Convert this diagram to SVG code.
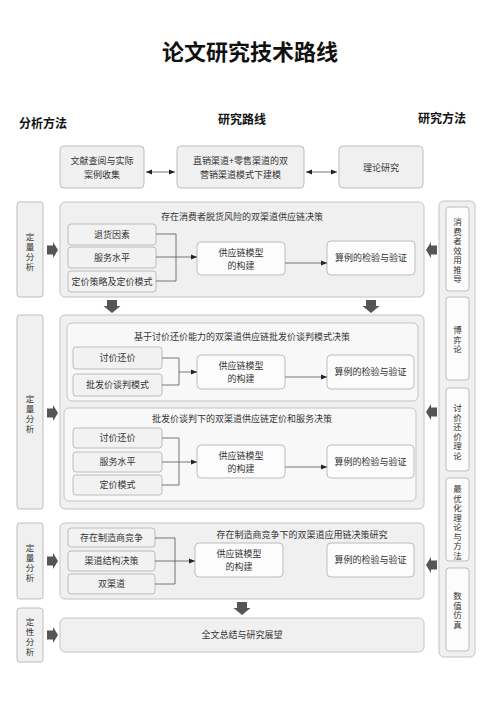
<svg xmlns="http://www.w3.org/2000/svg" width="500" height="707" viewBox="0 0 500 707">
<style>
text{font-family:"Noto Sans CJK SC","Noto Sans",sans-serif;fill:#333;}
.t9{font-size:9px;text-anchor:middle;}
.vt{font-size:8.5px;text-anchor:middle;}
.vr{font-size:8.5px;text-anchor:middle;}
.hd{font-size:12px;font-weight:bold;text-anchor:middle;fill:#111;}
.ttl{font-size:22px;font-weight:bold;text-anchor:middle;fill:#111;}
.box{fill:#f0f0f0;stroke:#bdbdbd;stroke-width:1;}
.sec{fill:#f0f0f0;stroke:#c4c4c4;stroke-width:1;}
.sub{fill:#f8f8f8;stroke:#c4c4c4;stroke-width:1;}
.fac{fill:#f2f2f2;stroke:#b5b5b5;stroke-width:0.9;}
.wb{fill:#fcfcfc;stroke:#b5b5b5;stroke-width:0.9;}
.ln{fill:none;stroke:#555;stroke-width:0.8;}
.ba{fill:#555;}
</style>
<defs>
<marker id="ah" viewBox="0 0 10 10" refX="10" refY="5" markerWidth="6" markerHeight="6" orient="auto-start-reverse" markerUnits="userSpaceOnUse">
<path d="M0,1 L10,5 L0,9 Z" fill="#222"/>
</marker>
<path id="rA" d="M0,-4.5 H6 V-8 L11,0 L6,8 V4.5 H0 Z"/>
<path id="lA" d="M0,-4.5 H-6 V-8 L-11,0 L-6,8 V4.5 H0 Z"/>
<path id="dA" d="M-5,0 H5 V6 H8.5 L0,13 L-8.5,6 H-5 Z"/>
</defs>
<rect width="500" height="707" fill="#fff"/>

<g id="title">
<text class="ttl" x="250" y="60">论文研究技术路线</text>
<text class="hd" x="43" y="128">分析方法</text>
<text class="hd" x="242" y="124">研究路线</text>
<text class="hd" x="442" y="123">研究方法</text>
</g>

<g id="top-a"><rect class="box" x="60" y="146" width="84" height="42" rx="4"/>
<text class="t9" x="102" y="164">文献查阅与实际</text><text class="t9" x="102" y="178">案例收集</text></g>
<g id="top-b"><rect class="box" x="177" y="146" width="127" height="42" rx="4"/>
<text class="t9" x="240.5" y="164">直销渠道+零售渠道的双</text><text class="t9" x="240.5" y="178">营销渠道模式下建模</text></g>
<g id="top-c"><rect class="box" x="339" y="146" width="84" height="42" rx="4"/>
<text class="t9" x="381" y="171">理论研究</text></g>

<!-- left column -->
<g id="left-1"><rect class="box" x="17" y="202" width="26" height="95" rx="3"/>
<text class="vt"><tspan x="30" y="240">定</tspan><tspan x="30" y="250">量</tspan><tspan x="30" y="260">分</tspan><tspan x="30" y="270">析</tspan></text></g>
<g id="left-2"><rect class="box" x="17" y="315" width="26" height="194" rx="3"/>
<text class="vt"><tspan x="30" y="402">定</tspan><tspan x="30" y="412">量</tspan><tspan x="30" y="422">分</tspan><tspan x="30" y="432">析</tspan></text></g>
<g id="left-3"><rect class="box" x="17" y="523" width="26" height="76" rx="3"/>
<text class="vt"><tspan x="30" y="551">定</tspan><tspan x="30" y="561">量</tspan><tspan x="30" y="571">分</tspan><tspan x="30" y="581">析</tspan></text></g>
<g id="left-4"><rect class="box" x="17" y="608" width="26" height="54" rx="3"/>
<text class="vt"><tspan x="30" y="625">定</tspan><tspan x="30" y="635">性</tspan><tspan x="30" y="645">分</tspan><tspan x="30" y="655">析</tspan></text></g>

<!-- right column -->
<g id="right-col"><rect class="sec" x="439" y="201" width="36" height="456" rx="5"/></g>
<g id="r1"><rect class="wb" x="446" y="207" width="23" height="84" rx="3"/>
<text class="vr"><tspan x="457.5" y="225">消</tspan><tspan x="457.5" y="234.5">费</tspan><tspan x="457.5" y="244">者</tspan><tspan x="457.5" y="253.5">效</tspan><tspan x="457.5" y="263">用</tspan><tspan x="457.5" y="272.5">推</tspan><tspan x="457.5" y="282">导</tspan></text></g>
<g id="r2"><rect class="wb" x="446" y="297" width="23" height="83" rx="3"/>
<text class="vr"><tspan x="457.5" y="333">博</tspan><tspan x="457.5" y="342.5">弈</tspan><tspan x="457.5" y="352">论</tspan></text></g>
<g id="r3"><rect class="wb" x="446" y="388" width="23" height="83" rx="3"/>
<text class="vr"><tspan x="457.5" y="411">讨</tspan><tspan x="457.5" y="420.5">价</tspan><tspan x="457.5" y="430">还</tspan><tspan x="457.5" y="439.5">价</tspan><tspan x="457.5" y="449">理</tspan><tspan x="457.5" y="458.5">论</tspan></text></g>
<g id="r4"><rect class="wb" x="446" y="478" width="23" height="83" rx="3"/>
<text class="vr"><tspan x="457.5" y="492">最</tspan><tspan x="457.5" y="501.5">优</tspan><tspan x="457.5" y="511">化</tspan><tspan x="457.5" y="520.5">理</tspan><tspan x="457.5" y="530">论</tspan><tspan x="457.5" y="539.5">与</tspan><tspan x="457.5" y="549">方</tspan><tspan x="457.5" y="558.5">法</tspan></text></g>
<g id="r5"><rect class="wb" x="446" y="568" width="23" height="83" rx="3"/>
<text class="vr"><tspan x="457.5" y="599">数</tspan><tspan x="457.5" y="608.5">值</tspan><tspan x="457.5" y="618">仿</tspan><tspan x="457.5" y="627.5">真</tspan></text></g>

<!-- section 1 -->
<g id="sec1"><rect class="sec" x="60" y="202" width="364" height="95" rx="5"/>
<text class="t9" x="242" y="220">存在消费者脱货风险的双渠道供应链决策</text></g>
<g id="s1f1"><rect class="fac" x="68" y="224" width="88" height="21" rx="3"/><text class="t9" x="112" y="237.5">退货因素</text></g>
<g id="s1f2"><rect class="fac" x="68" y="247" width="88" height="21" rx="3"/><text class="t9" x="112" y="260.5">服务水平</text></g>
<g id="s1f3"><rect class="fac" x="68" y="271" width="88" height="21" rx="3"/><text class="t9" x="112" y="284.5">定价策略及定价模式</text></g>
<g id="s1m"><rect class="wb" x="197" y="242" width="88" height="33" rx="4"/><text class="t9" x="241" y="256">供应链模型</text><text class="t9" x="241" y="269">的构建</text></g>
<g id="s1v"><rect class="wb" x="327" y="241" width="88" height="34" rx="4"/><text class="t9" x="371" y="261">算例的检验与验证</text></g>

<!-- section 2 -->
<g id="sec2"><rect class="sec" x="60" y="315" width="364" height="194" rx="5"/></g>
<g id="sec2a"><rect class="sub" x="67" y="323" width="351" height="78" rx="5"/>
<text class="t9" x="242" y="340">基于讨价还价能力的双渠道供应链批发价谈判模式决策</text></g>
<g id="s2af1"><rect class="fac" x="73" y="347" width="89" height="22" rx="3"/><text class="t9" x="117.5" y="361">讨价还价</text></g>
<g id="s2af2"><rect class="fac" x="73" y="374" width="89" height="22" rx="3"/><text class="t9" x="117.5" y="388">批发价谈判模式</text></g>
<g id="s2am"><rect class="wb" x="197" y="355" width="88" height="34" rx="4"/><text class="t9" x="241" y="369">供应链模型</text><text class="t9" x="241" y="382">的构建</text></g>
<g id="s2av"><rect class="wb" x="327" y="355" width="87" height="34" rx="4"/><text class="t9" x="370.5" y="375">算例的检验与验证</text></g>

<g id="sec2b"><rect class="sub" x="64" y="408" width="352" height="93" rx="5"/>
<text class="t9" x="242" y="422">批发价谈判下的双渠道供应链定价和服务决策</text></g>
<g id="s2bf1"><rect class="fac" x="73" y="428" width="89" height="20" rx="3"/><text class="t9" x="117.5" y="441">讨价还价</text></g>
<g id="s2bf2"><rect class="fac" x="73" y="452" width="89" height="20" rx="3"/><text class="t9" x="117.5" y="465">服务水平</text></g>
<g id="s2bf3"><rect class="fac" x="73" y="475" width="89" height="20" rx="3"/><text class="t9" x="117.5" y="488">定价模式</text></g>
<g id="s2bm"><rect class="wb" x="197" y="445" width="88" height="33" rx="4"/><text class="t9" x="241" y="459">供应链模型</text><text class="t9" x="241" y="472">的构建</text></g>
<g id="s2bv"><rect class="wb" x="327" y="445" width="87" height="33" rx="4"/><text class="t9" x="370.5" y="465">算例的检验与验证</text></g>

<!-- section 3 -->
<g id="sec3"><rect class="sec" x="60" y="523" width="364" height="76" rx="5"/>
<text class="t9" x="302" y="538">存在制造商竞争下的双渠道应用链决策研究</text></g>
<g id="s3f1"><rect class="fac" x="68" y="528" width="87" height="19" rx="3"/><text class="t9" x="111.5" y="540.5">存在制造商竞争</text></g>
<g id="s3f2"><rect class="fac" x="68" y="551" width="87" height="20" rx="3"/><text class="t9" x="111.5" y="564">渠道结构决策</text></g>
<g id="s3f3"><rect class="fac" x="68" y="574" width="87" height="20" rx="3"/><text class="t9" x="111.5" y="587">双渠道</text></g>
<g id="s3m"><rect class="wb" x="195" y="543" width="88" height="34" rx="4"/><text class="t9" x="239" y="557">供应链模型</text><text class="t9" x="239" y="570">的构建</text></g>
<g id="s3v"><rect class="wb" x="327" y="543" width="87" height="34" rx="4"/><text class="t9" x="370.5" y="563">算例的检验与验证</text></g>

<!-- section 4 -->
<g id="sec4"><rect class="sec" x="60" y="618" width="364" height="34" rx="5"/>
<text class="t9" x="242" y="638">全文总结与研究展望</text></g>

<g id="connectors">
<line class="ln" x1="146" y1="172" x2="175" y2="172" marker-start="url(#ah)" marker-end="url(#ah)"/>
<line class="ln" x1="306" y1="172" x2="337" y2="172" marker-start="url(#ah)" marker-end="url(#ah)"/>

<polyline class="ln" points="156,234 176,234 176,281 156,281"/>
<line class="ln" x1="156" y1="257" x2="197" y2="257" marker-end="url(#ah)"/>
<line class="ln" x1="285" y1="263" x2="327" y2="263" marker-end="url(#ah)"/>

<polyline class="ln" points="162,358 179,358 179,385 162,385"/>
<line class="ln" x1="179" y1="372" x2="197" y2="372" marker-end="url(#ah)"/>
<line class="ln" x1="285" y1="377" x2="327" y2="377" marker-end="url(#ah)"/>

<polyline class="ln" points="162,438 179,438 179,485 162,485"/>
<line class="ln" x1="162" y1="462" x2="197" y2="462" marker-end="url(#ah)"/>
<line class="ln" x1="285" y1="467" x2="327" y2="467" marker-end="url(#ah)"/>

<polyline class="ln" points="155,538 175,538 175,584 155,584"/>
<line class="ln" x1="155" y1="561" x2="195" y2="561" marker-end="url(#ah)"/>

<use href="#rA" class="ba" x="47" y="250"/>
<use href="#rA" class="ba" x="47" y="413"/>
<use href="#rA" class="ba" x="47" y="561"/>
<use href="#rA" class="ba" x="47" y="635"/>
<use href="#lA" class="ba" x="437" y="250"/>
<use href="#lA" class="ba" x="437" y="412"/>
<use href="#lA" class="ba" x="437" y="565"/>
<use href="#dA" class="ba" x="112" y="300"/>
<use href="#dA" class="ba" x="371" y="300"/>
<use href="#dA" class="ba" x="242" y="602"/>
</g>
</svg>
